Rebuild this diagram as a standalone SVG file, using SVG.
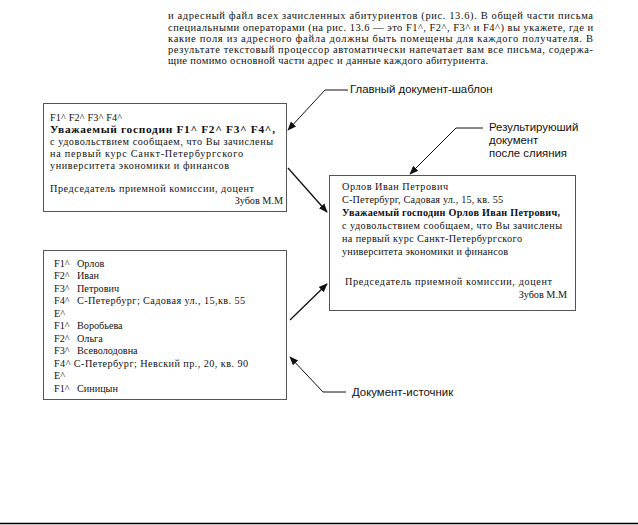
<svg xmlns="http://www.w3.org/2000/svg" width="638" height="525" viewBox="0 0 638 525">
<defs>
<marker id="ah" viewBox="0 0 10 10" refX="9" refY="5" markerWidth="9" markerHeight="9" markerUnits="userSpaceOnUse" orient="auto">
<path d="M0,1 L10,5 L0,9 Z" fill="#111"/>
</marker>
<style>
.para{font-family:"Liberation Serif","DejaVu Serif",serif;font-size:10.5px;fill:#111}
.doc{font-family:"Liberation Serif","DejaVu Serif",serif;font-size:10.2px;fill:#111}
.b{font-weight:bold}
.lbl{font-family:"Liberation Sans","DejaVu Sans",sans-serif;font-size:11.4px;fill:#111}
.box{fill:#fff;stroke:#555;stroke-width:1}
.con{fill:none;stroke:#111;stroke-width:1.3}
.lead{fill:none;stroke:#111;stroke-width:1}
</style>
</defs>
<rect width="638" height="525" fill="#fff"/>
<g id="paragraph">
<text class="para" x="168" y="19" textLength="425" lengthAdjust="spacing">и адресный файл всех зачисленных абитуриентов (рис. 13.6). В общей части письма</text>
<text class="para" x="168" y="31" textLength="425" lengthAdjust="spacing">специальными операторами (на рис. 13.6 — это F1^, F2^, F3^ и F4^) вы укажете, где и</text>
<text class="para" x="168" y="42" textLength="425" lengthAdjust="spacing">какие поля из адресного файла должны быть помещены для каждого получателя. В</text>
<text class="para" x="168" y="53" textLength="425" lengthAdjust="spacing">результате текстовый процессор автоматически напечатает вам все письма, содержа-</text>
<text class="para" x="168" y="64" textLength="320" lengthAdjust="spacing">щие помимо основной части адрес и данные каждого абитуриента.</text>
</g>
<g id="template">
<rect class="box" x="43.5" y="103.5" width="243" height="108"/>
<text class="doc" x="50" y="121" textLength="72">F1^ F2^ F3^ F4^</text>
<text class="doc b" x="50" y="133" style="font-size:11.4px" textLength="225">Уважаемый господин F1^ F2^ F3^ F4^,</text>
<text class="doc" x="50" y="145" textLength="223">с удовольствием сообщаем, что Вы зачислены</text>
<text class="doc" x="50" y="157" textLength="193">на первый курс Санкт-Петербургского</text>
<text class="doc" x="50" y="169" textLength="179">университета экономики и финансов</text>
<text class="doc" x="50" y="192" textLength="204">Председатель приемной комиссии, доцент</text>
<text class="doc" x="283" y="204" text-anchor="end">Зубов М.М</text>
</g>
<g id="source">
<rect class="box" x="43.5" y="250.5" width="243" height="149"/>
<g class="doc">
<text x="54" y="266.5">F1^</text><text x="77" y="266.5">Орлов</text>
<text x="54" y="279">F2^</text><text x="77" y="279">Иван</text>
<text x="54" y="291.5">F3^</text><text x="77" y="291.5">Петрович</text>
<text x="54" y="304">F4^</text><text x="77" y="304" textLength="168">С-Петербург; Садовая ул., 15,кв. 55</text>
<text x="54" y="316.5">E^</text>
<text x="54" y="329">F1^</text><text x="77" y="329">Воробьева</text>
<text x="54" y="341.5">F2^</text><text x="77" y="341.5">Ольга</text>
<text x="54" y="354">F3^</text><text x="77" y="354">Всеволодовна</text>
<text x="54" y="366.5" textLength="194">F4^ С-Петербург; Невский пр., 20, кв. 90</text>
<text x="54" y="379">E^</text>
<text x="54" y="391.5">F1^</text><text x="77" y="391.5">Синицын</text>
</g>
</g>
<g id="result">
<rect class="box" x="329.5" y="175.5" width="246" height="135"/>
<text class="doc" x="342" y="190" textLength="106">Орлов Иван Петрович</text>
<text class="doc" x="342" y="203" textLength="161">С-Петербург, Садовая ул., 15, кв. 55</text>
<text class="doc b" x="342" y="216" textLength="218">Уважаемый господин  Орлов Иван Петрович,</text>
<text class="doc" x="342" y="229" textLength="220">с удовольствием сообщаем, что Вы зачислены</text>
<text class="doc" x="342" y="242" textLength="180">на первый курс Санкт-Петербургского</text>
<text class="doc" x="342" y="255" textLength="166">университета экономики и финансов</text>
<text class="doc" x="345" y="285" textLength="207">Председатель приемной комиссии, доцент</text>
<text class="doc" x="567" y="298" text-anchor="end">Зубов М.М</text>
</g>
<g id="label-template">
<text class="lbl" x="350" y="93">Главный документ-шаблон</text>
</g>
<g id="label-result">
<text class="lbl" x="489" y="131">Результируюший</text>
<text class="lbl" x="489" y="144">документ</text>
<text class="lbl" x="489" y="157">после слияния</text>
</g>
<g id="label-source">
<text class="lbl" x="352" y="396">Документ-источник</text>
</g>
<g id="connectors">
<path class="con" d="M288,168 L327,212" marker-end="url(#ah)"/>
<path class="con" d="M290,320 L327,284" marker-end="url(#ah)"/>
<path class="lead" d="M348,90 L325,90 L288,130" marker-end="url(#ah)"/>
<path class="lead" d="M483,128 L456,128 L410,174" marker-end="url(#ah)"/>
<path class="lead" d="M346,392 L323,392 L290,357" marker-end="url(#ah)"/>
</g>
<line x1="0" y1="523.5" x2="638" y2="523.5" stroke="#000" stroke-width="1.5"/>
</svg>
